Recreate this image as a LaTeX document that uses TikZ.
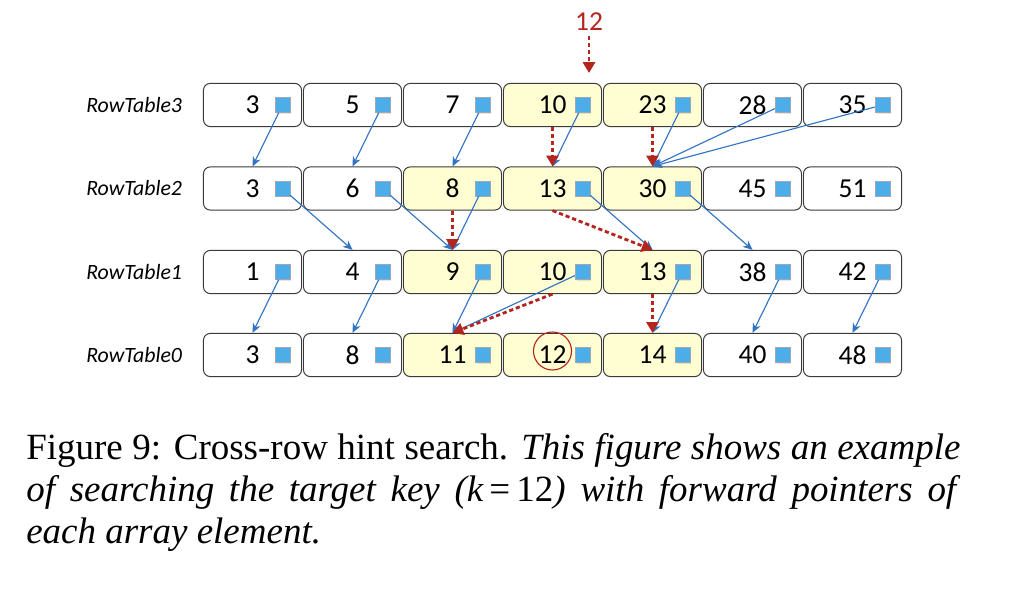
\documentclass[tikz,border=0pt]{standalone}
\usepackage{fontspec}
\newfontfamily\cellfont{Carlito}
\newfontfamily\capfont{Liberation Serif}
\usetikzlibrary{arrows.meta,positioning,shadows}
\definecolor{rtInk}{HTML}{3A3A3A}
\definecolor{rtHot}{HTML}{FFFDD2}
\definecolor{rtPtr}{HTML}{4DADE8}
\definecolor{rtPtrRim}{HTML}{9AA9B4}
\definecolor{rtLink}{HTML}{3273C4}
\definecolor{rtPath}{HTML}{B3261E}
\tikzset{
  rt cell/.style={
    draw=rtInk, line width=.7pt, rounded corners=1.7mm,
    minimum width=2.45cm, minimum height=1.08cm,
    font=\cellfont\fontsize{19.5}{19.5}\selectfont, text=black
  },
  rt ptr/.style={
    draw=rtPtrRim, fill=rtPtr, line width=.4pt,
    minimum size=.37cm, inner sep=0pt,
    drop shadow={shadow xshift=.35mm, shadow yshift=-.35mm, opacity=.2}
  },
  rt row label/.style={font=\cellfont\itshape\fontsize{15.5}{15.5}\selectfont},
  rt link/.style={
    draw=rtLink, line width=.8pt,
    -{Stealth[length=2.4mm,width=2.1mm]}
  },
  rt path/.style={
    draw=rtPath, line width=2pt,
    dash pattern=on 3pt off 2pt,
    -{Triangle[length=2.7mm,width=3mm]}
  },
  rt ring/.style={circle, draw=rtPath, line width=.8pt, minimum size=.95cm, inner sep=0pt},
  rt caption/.style={
    font=\capfont\fontsize{26.3}{30}\selectfont,
    text width=23.35cm, align=justify, inner sep=0pt, anchor=base west
  }
}

\begin{document}
\begin{tikzpicture}[x=0.025cm,y=-0.025cm]
  \useasboundingbox[fill=white] (0,0) rectangle (1016,616);

  % rows of the table, yellow cells lie on the search path
  \foreach \v/\f [count=\c] in {3/white,5/white,7/white,10/rtHot,23/rtHot,28/white,35/white} {
    \node[rt cell, fill=\f] (r3c\c) at (152.5+100*\c,105) {\v};
    \node[rt ptr] (r3p\c) at ([xshift=.75cm]r3c\c.center) {};
  }
  \foreach \v/\f [count=\c] in {3/white,6/white,8/rtHot,13/rtHot,30/rtHot,45/white,51/white} {
    \node[rt cell, fill=\f] (r2c\c) at (152.5+100*\c,188.5) {\v};
    \node[rt ptr] (r2p\c) at ([xshift=.75cm]r2c\c.center) {};
  }
  \foreach \v/\f [count=\c] in {1/white,4/white,9/rtHot,10/rtHot,13/rtHot,38/white,42/white} {
    \node[rt cell, fill=\f] (r1c\c) at (152.5+100*\c,272) {\v};
    \node[rt ptr] (r1p\c) at ([xshift=.75cm]r1c\c.center) {};
  }
  \foreach \v/\f [count=\c] in {3/white,8/white,11/rtHot,12/rtHot,14/rtHot,40/white,48/white} {
    \node[rt cell, fill=\f] (r0c\c) at (152.5+100*\c,355) {\v};
    \node[rt ptr] (r0p\c) at ([xshift=.75cm]r0c\c.center) {};
  }

  \foreach \r in {0,...,3}
    \node[rt row label, left=.4cm of r\r c1] (lab\r) {RowTable\r};

  % forward pointers
  \foreach \a/\b in {r3p1/r2c1,r3p2/r2c2,r3p3/r2c3,r3p4/r2c4,r3p5/r2c5,r3p6/r2c5,r3p7/r2c5,
                     r2p1/r1c2,r2p2/r1c3,r2p3/r1c3,r2p4/r1c5,r2p5/r1c6,
                     r1p1/r0c1,r1p2/r0c2,r1p3/r0c3,r1p4/r0c3,r1p5/r0c5,r1p6/r0c6,r1p7/r0c7}
    \draw[rt link] (\a) -- (\b.north);

  % search for the key
  \node[font=\cellfont\fontsize{19.5}{19.5}\selectfont, text=rtPath] (key) at (589,22) {12};
  \coordinate (entry) at (589,73);
  \draw[rt path] (key) -- (entry);
  \foreach \a/\b in {r3c4/r2c4,r3c5/r2c5,r2c3/r1c3,r2c4/r1c5,r1c4/r0c3,r1c5/r0c5}
    \draw[rt path] (\a.south) -- (\b.north);
  \node[rt ring] (found) at ([yshift=.1cm]r0c4.center) {};

  \node[rt caption] (caption) at (26,459) {Figure 9: Cross-row hint search. \textit{This figure shows an example}\linebreak
    \textit{of searching the target key (k\,\textup{=}\,\textup{12}) with forward pointers of}\linebreak
    \textit{each array element.}};
\end{tikzpicture}
\end{document}
